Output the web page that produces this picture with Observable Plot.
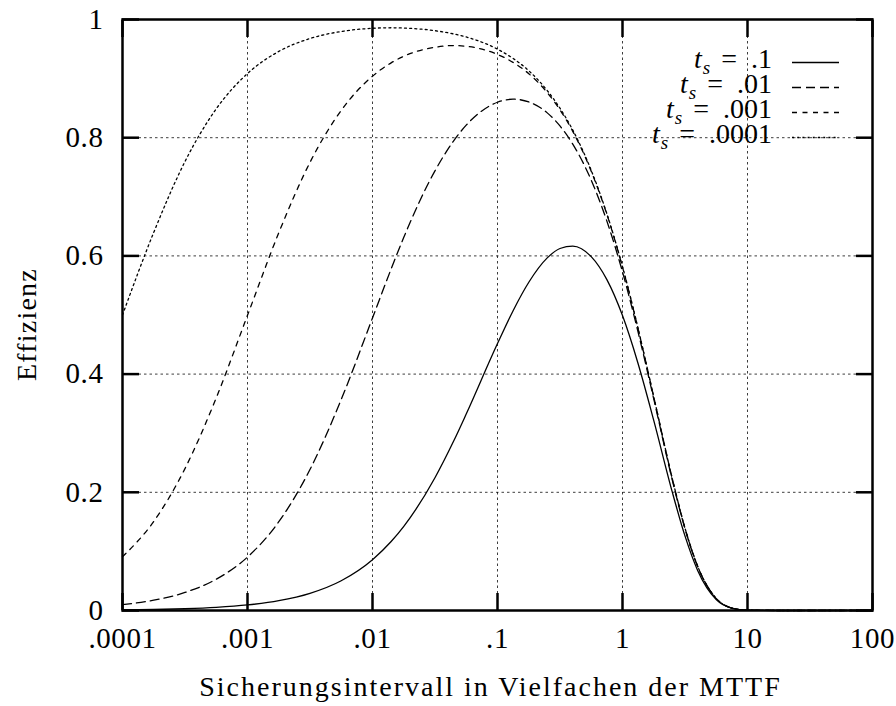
<!DOCTYPE html>
<html>
<head>
<meta charset="utf-8">
<script src="https://cdn.jsdelivr.net/npm/d3@7"></script>
<script src="https://cdn.jsdelivr.net/npm/@observablehq/plot@0.6"></script>
<style>
  html, body { margin: 0; padding: 0; background: #fff; }
  #chart svg { display: block; }
  #chart svg text { font-family: "Liberation Serif", serif; }
</style>
</head>
<body>
<div id="chart"></div>
<script>
// ---- data ----
const intervals = [0.0001, 0.000178, 0.000316, 0.000562, 0.001, 0.00178, 0.00316, 0.00562, 0.01, 0.0141, 0.0178, 0.0316, 0.0446, 0.0562, 0.1, 0.133, 0.178, 0.25, 0.316, 0.4, 0.562, 0.75, 1, 1.33, 1.78, 2.5, 3.16, 4, 5.62, 7.5, 10, 20, 100];

const effTs1 = [0.001, 0.0017, 0.003, 0.0053, 0.0094, 0.0166, 0.0291, 0.0504, 0.086, 0.1167, 0.1424, 0.2247, 0.2867, 0.3324, 0.4517, 0.5069, 0.5554, 0.5966, 0.6125, 0.6166, 0.5987, 0.5598, 0.499, 0.4184, 0.3213, 0.2006, 0.1262, 0.0674, 0.0185, 0.0038, 0.0004, 0, 0];
const effTs01 = [0.0099, 0.0174, 0.0305, 0.0529, 0.0904, 0.1502, 0.2385, 0.357, 0.495, 0.578, 0.6315, 0.7439, 0.7948, 0.8212, 0.86, 0.8652, 0.8605, 0.842, 0.8199, 0.7892, 0.7282, 0.6589, 0.5729, 0.4718, 0.3576, 0.2211, 0.1385, 0.0739, 0.0202, 0.0041, 0.0005, 0, 0];
const effTs001 = [0.0909, 0.1508, 0.2401, 0.3597, 0.4995, 0.6392, 0.7582, 0.8462, 0.9041, 0.9267, 0.9379, 0.953, 0.9559, 0.9547, 0.9409, 0.9275, 0.9083, 0.8763, 0.8471, 0.8108, 0.7432, 0.6702, 0.5811, 0.4775, 0.361, 0.2233, 0.1396, 0.0746, 0.0203, 0.0042, 0.0005, 0, 0];
const effTs0001 = [0.5, 0.64, 0.7596, 0.8488, 0.9086, 0.946, 0.9678, 0.9797, 0.9851, 0.986, 0.9855, 0.9811, 0.9756, 0.9704, 0.9498, 0.9342, 0.9133, 0.8798, 0.8499, 0.813, 0.7448, 0.6713, 0.5819, 0.4781, 0.3612, 0.2235, 0.1397, 0.0746, 0.0203, 0.0042, 0.0005, 0, 0];

const seriesValues = [effTs1, effTs01, effTs001, effTs0001];
const legendValues = [".1", ".01", ".001", ".0001"];

const xTicks = [0.0001, 0.001, 0.01, 0.1, 1, 10, 100];
const xTickLabels = [".0001", ".001", ".01", ".1", "1", "10", "100"];
const yTicks = [0, 0.2, 0.4, 0.6, 0.8, 1];
const yTickLabels = ["0", "0.2", "0.4", "0.6", "0.8", "1"];

const xTitle = "Sicherungsintervall in Vielfachen der MTTF";
const yTitle = "Effizienz";

// ---- styles ----
const FONT = "Liberation Serif";
const dashes = [null, "9,5", "5,5.5", "2,3.2"];

const tables = seriesValues.map((vals, k) =>
  intervals.map((x, i) => ({x, y: vals[i], ts: legendValues[k]}))
);

const lineMarks = tables.map((t, k) =>
  Plot.line(t, {x: "x", y: "y", stroke: "#000", strokeWidth: 1.3,
    strokeDasharray: dashes[k] || undefined, curve: "monotone-x"})
);

const gridStyle = {stroke: "#000", strokeWidth: 0.9, strokeOpacity: 0.85, strokeDasharray: "2.5,3"};

const chart = Plot.plot({
  width: 896,
  height: 706,
  marginLeft: 122,
  marginRight: 24,
  marginTop: 19,
  marginBottom: 96,
  style: {fontFamily: FONT, fontSize: "28px", background: "#fff", color: "#000"},
  x: {type: "log", domain: [0.0001, 100]},
  y: {domain: [0, 1]},
  marks: [
    Plot.ruleX(xTicks, gridStyle),
    Plot.ruleY(yTicks, gridStyle),
    ...lineMarks,
    Plot.frame({stroke: "#000", strokeWidth: 2.5}),
    // inward ticks on all four sides
    Plot.axisX(xTicks, {anchor: "bottom", tickSize: -17, strokeWidth: 2.5, tickFormat: () => "", label: null}),
    Plot.axisX(xTicks, {anchor: "top", tickSize: -17, strokeWidth: 2.5, tickFormat: () => "", label: null}),
    Plot.axisY(yTicks, {anchor: "left", tickSize: -17, strokeWidth: 2.5, tickFormat: () => "", label: null}),
    Plot.axisY(yTicks, {anchor: "right", tickSize: -17, strokeWidth: 2.5, tickFormat: () => "", label: null}),
    // tick labels
    Plot.axisX(xTicks, {anchor: "bottom", tickSize: 0, tickPadding: 17, fontSize: 29, fontFamily: FONT,
      fontVariant: "normal",
      tickFormat: d => xTickLabels[xTicks.indexOf(d)], label: null}),
    Plot.axisY(yTicks, {anchor: "left", tickSize: 0, tickPadding: 19, fontSize: 29, fontFamily: FONT,
      fontVariant: "normal",
      tickFormat: d => yTickLabels[yTicks.indexOf(d)], label: null}),
    // axis titles
    Plot.text([xTitle], {frameAnchor: "bottom", dx: -7, dy: 85, lineAnchor: "bottom",
      fontSize: 28, fontFamily: FONT, text: d => d}),
    Plot.text([yTitle], {frameAnchor: "left", rotate: -90, dx: -87, dy: 66, textAnchor: "start",
      lineAnchor: "bottom", fontSize: 28, fontFamily: FONT, text: d => d})
  ]
});

document.getElementById("chart").appendChild(chart);

const svg = d3.select(chart);
// letter spacing to approximate the wider Computer Modern typeface
svg.selectAll("text").each(function() {
  const s = this.textContent;
  if (s === xTitle) d3.select(this).style("letter-spacing", "2px");
  else if (s === yTitle) d3.select(this).style("letter-spacing", "1.2px");
  else if (xTickLabels.includes(s) || yTickLabels.includes(s)) d3.select(this).style("letter-spacing", "0.6px");
});

// ---- legend (top right, inside the frame) ----
const lg = svg.append("g").attr("aria-label", "legend")
  .attr("font-family", FONT).attr("font-size", 28).attr("fill", "#000");
legendValues.forEach((lab, i) => {
  const by = 68 + i * 25;
  const t = lg.append("text").attr("x", 772).attr("y", by).attr("text-anchor", "end");
  t.append("tspan").attr("font-style", "italic").text("t");
  t.append("tspan").attr("font-style", "italic").attr("font-size", 19).attr("dy", 6).attr("dx", 1).text("s");
  t.append("tspan").attr("dy", -6).attr("dx", 11).text("=");
  t.append("tspan").attr("dx", 14).text(lab);
  lg.append("line")
    .attr("x1", 792).attr("x2", 839)
    .attr("y1", by - 5.5).attr("y2", by - 5.5)
    .attr("stroke", "#000").attr("stroke-width", 1.3)
    .attr("stroke-dasharray", dashes[i]);
});
</script>
</body>
</html>
